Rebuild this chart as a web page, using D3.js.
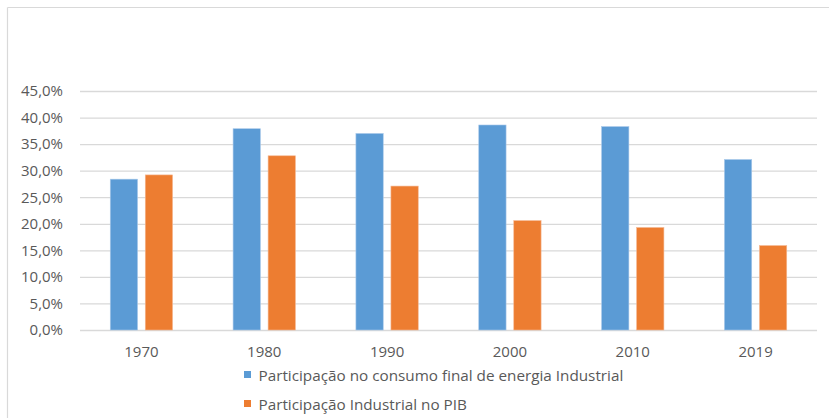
<!DOCTYPE html>
<html>
<head>
<meta charset="utf-8">
<script src="https://cdn.jsdelivr.net/npm/d3@7"></script>
<style>
  html, body { margin: 0; padding: 0; background: #fff; }
  svg { display: block; font-family: "Open Sans", "Noto Sans", sans-serif; }
</style>
</head>
<body>
<svg id="chart" width="829" height="418"></svg>
<script>
// Participação da indústria: consumo final de energia vs. PIB
const years = ["1970", "1980", "1990", "2000", "2010", "2019"];
const seriesNames = [
  "Participação no consumo final de energia Industrial",
  "Participação Industrial no PIB"
];
const energia = [0.284, 0.379, 0.370, 0.386, 0.383, 0.321];
const pib = [0.292, 0.328, 0.271, 0.206, 0.193, 0.159];
const yTicks = [0, 0.05, 0.10, 0.15, 0.20, 0.25, 0.30, 0.35, 0.40, 0.45];
const colors = ["#5b9bd5", "#ed7d31"];

const svg = d3.select("#chart");
const W = 829, H = 418;
const plot = { left: 80, right: 817, top: 91, bottom: 330 };

const ptBR = d3.formatLocale({ decimal: ",", thousands: ".", grouping: [3], currency: ["R$", ""] });
const pct = ptBR.format(".1%");

// frame (top and left edges visible)
svg.append("line").attr("x1", 7.5).attr("x2", W).attr("y1", 7.5).attr("y2", 7.5)
  .attr("stroke", "#d9d9d9").attr("stroke-width", 1.2);
svg.append("line").attr("x1", 7.5).attr("x2", 7.5).attr("y1", 7.5).attr("y2", H)
  .attr("stroke", "#d9d9d9").attr("stroke-width", 1.2);

const y = d3.scaleLinear().domain([0, 0.45]).range([plot.bottom, plot.top]);
const x0 = d3.scaleBand().domain(years).range([plot.left, plot.right]).padding(0);
const x1 = d3.scaleBand().domain([0, 1]).range([0, x0.bandwidth()])
  .paddingInner(0.22).paddingOuter(0.864);

// gridlines + y labels
const yAxis = d3.axisLeft(y).tickValues(yTicks).tickFormat(pct)
  .tickSize(-(plot.right - plot.left)).tickPadding(17);
const gy = svg.append("g").attr("transform", `translate(${plot.left},0)`).call(yAxis);
gy.select(".domain").remove();
gy.selectAll(".tick line").attr("stroke", "#d9d9d9").attr("stroke-width", 1.3);
gy.selectAll(".tick text").attr("fill", "#595959").style("font-size", "15px")
  .style("font-family", "'Open Sans', sans-serif");

// bars
const rows = years.map((yr, i) => ({ year: yr, values: [energia[i], pib[i]] }));
const groups = svg.append("g").selectAll("g").data(rows).join("g")
  .attr("transform", d => `translate(${x0(d.year)},0)`);
groups.selectAll("rect").data(d => d.values.map((v, k) => ({ k, v }))).join("rect")
  .attr("x", d => x1(d.k))
  .attr("width", x1.bandwidth())
  .attr("y", d => y(d.v))
  .attr("height", d => y(0) - y(d.v))
  .attr("fill", d => colors[d.k])
  .attr("stroke", d => d.k === 0 ? "#a9c9ea" : "#f5b893")
  .attr("stroke-width", 0.6);

// x labels
const xAxis = d3.axisBottom(x0).tickSize(0).tickPadding(16);
const gx = svg.append("g").attr("transform", `translate(0,${plot.bottom})`).call(xAxis);
gx.select(".domain").remove();
gx.selectAll(".tick text").attr("fill", "#595959").style("font-size", "15px")
  .style("font-family", "'Open Sans', sans-serif");

// legend
const legend = svg.append("g");
const legendRows = [{ y: 381 }, { y: 410 }];
seriesNames.forEach((name, i) => {
  legend.append("rect").attr("x", 244).attr("y", legendRows[i].y - 10)
    .attr("width", 7).attr("height", 7).attr("fill", colors[i]);
  const t = legend.append("text").attr("x", 258.5).attr("y", legendRows[i].y)
    .attr("fill", "#595959").style("font-size", "15px").text(name);
  if (i === 0) {
    const w = t.node().getComputedTextLength();
    const fs = 15 * 365 / w;
    legend.selectAll("text").style("font-size", fs + "px");
    legend.attr("data-fs", fs);
  } else {
    t.style("font-size", legend.attr("data-fs") + "px");
  }
});
</script>
</body>
</html>
